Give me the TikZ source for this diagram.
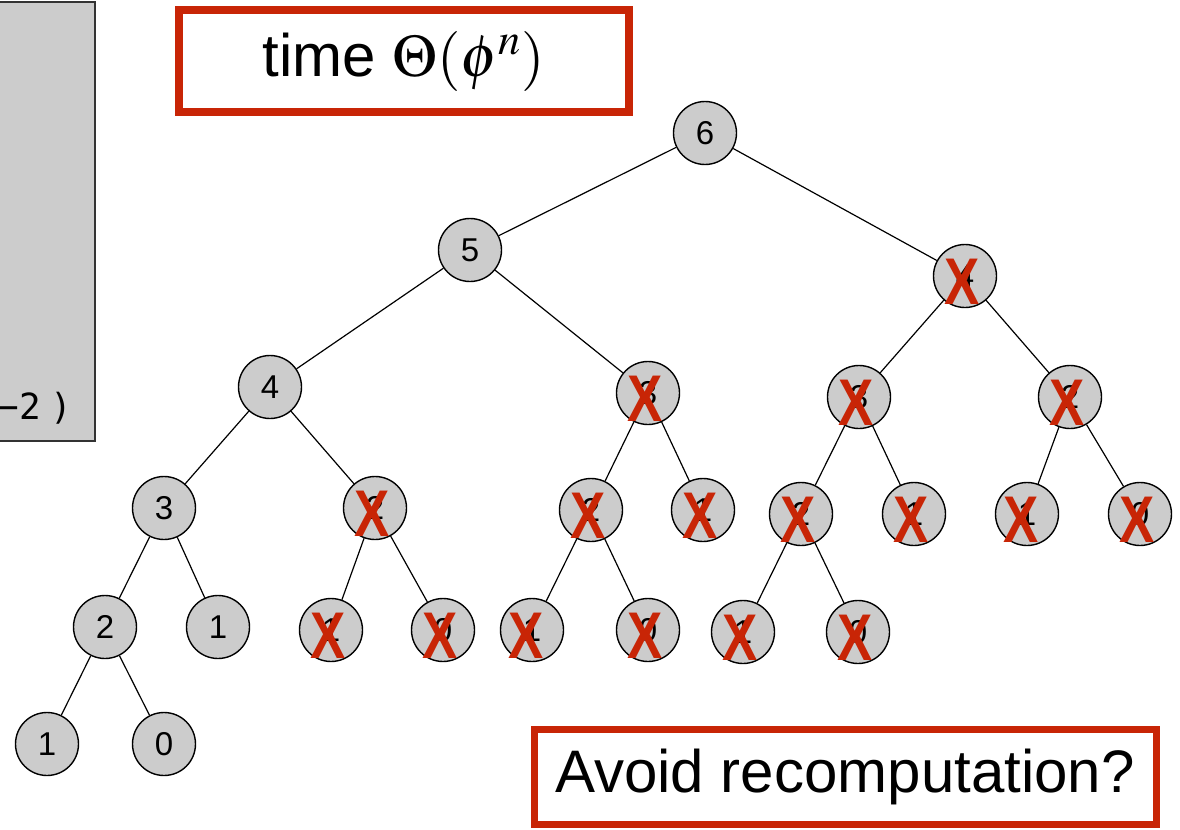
\documentclass[tikz,border=0pt]{standalone}
\usepackage{mathptmx}
\usepackage{fontspec}
\setmainfont{Liberation Sans}
\setmonofont{DejaVu Sans Mono}
\usepackage{tikz}
\usetikzlibrary{positioning}
\definecolor{markred}{RGB}{200,37,6}
\definecolor{nodegray}{RGB}{204,204,204}

\begin{document}
\begin{tikzpicture}[x=0.5pt, y=-0.5pt,
    fibnode/.style={draw, circle, fill=nodegray, line width=0.7pt, minimum size=31.5pt, inner sep=0pt, font=\fontsize{16.5}{16.5}\selectfont},
    cross/.style={text=markred, inner sep=0pt, xshift=-1.5pt, yshift=-3pt, font=\bfseries\fontsize{33}{33}\selectfont, xscale=0.8, transform shape},
    redbox/.style={draw=markred, rectangle, text centered}]

    \useasboundingbox (0,0) rectangle (1180,830);

    % Code panel on the left, cut off by the edge
    \draw[draw=black!80, fill=nodegray, line width=0.8pt] (-20,2) rectangle (95,441);
    \node (codeline) [anchor=base east, inner sep=0pt, font=\ttfamily\fontsize{18}{18}\selectfont] at (73,419) {−2\kern5pt)};

    % Nodes of the call tree
    \node (f6) [fibnode] at (705,133) {6};
    \node (f5) [fibnode] at (470,250) {5};
    \node (f4r) [fibnode] at (965,276) {4};
    \node (f4) [fibnode] at (270,387) {4};
    \node (f3m) [fibnode] at (648,393) {3};
    \node (f3r) [fibnode] at (859,397) {3};
    \node (f2r) [fibnode] at (1070,397) {2};
    \node (f3) [fibnode] at (164,508) {3};
    \node (f2a) [fibnode] at (375,508) {2};
    \node (f2m) [fibnode] at (591,510) {2};
    \node (f1a) [fibnode] at (703,510) {1};
    \node (f2b) [fibnode] at (801,514) {2};
    \node (f1b) [fibnode] at (914,514) {1};
    \node (f1c) [fibnode] at (1027,514) {1};
    \node (f0a) [fibnode] at (1140,514) {0};
    \node (f2) [fibnode] at (105,627) {2};
    \node (f1d) [fibnode] at (218,627) {1};
    \node (f1e) [fibnode] at (331,630) {1};
    \node (f0b) [fibnode] at (443,630) {0};
    \node (f1f) [fibnode] at (532,630) {1};
    \node (f0c) [fibnode] at (648,630) {0};
    \node (f1g) [fibnode] at (743,632) {1};
    \node (f0d) [fibnode] at (858,632) {0};
    \node (f1) [fibnode] at (47,744) {1};
    \node (f0) [fibnode] at (164,744) {0};

    % Edges from each call to its two sub-calls
    \draw[line width=0.6pt] (f6) -- (f5);
    \draw[line width=0.6pt] (f6) -- (f4r);
    \draw[line width=0.6pt] (f5) -- (f4);
    \draw[line width=0.6pt] (f5) -- (f3m);
    \draw[line width=0.6pt] (f4r) -- (f3r);
    \draw[line width=0.6pt] (f4r) -- (f2r);
    \draw[line width=0.6pt] (f4) -- (f3);
    \draw[line width=0.6pt] (f4) -- (f2a);
    \draw[line width=0.6pt] (f3m) -- (f2m);
    \draw[line width=0.6pt] (f3m) -- (f1a);
    \draw[line width=0.6pt] (f3r) -- (f2b);
    \draw[line width=0.6pt] (f3r) -- (f1b);
    \draw[line width=0.6pt] (f2r) -- (f1c);
    \draw[line width=0.6pt] (f2r) -- (f0a);
    \draw[line width=0.6pt] (f3) -- (f2);
    \draw[line width=0.6pt] (f3) -- (f1d);
    \draw[line width=0.6pt] (f2a) -- (f1e);
    \draw[line width=0.6pt] (f2a) -- (f0b);
    \draw[line width=0.6pt] (f2m) -- (f1f);
    \draw[line width=0.6pt] (f2m) -- (f0c);
    \draw[line width=0.6pt] (f2b) -- (f1g);
    \draw[line width=0.6pt] (f2b) -- (f0d);
    \draw[line width=0.6pt] (f2) -- (f1);
    \draw[line width=0.6pt] (f2) -- (f0);

    % Red crosses on the repeated calls
    \node (x4r) [cross] at (f4r) {X};
    \node (x3m) [cross] at (f3m) {X};
    \node (x3r) [cross] at (f3r) {X};
    \node (x2r) [cross] at (f2r) {X};
    \node (x2a) [cross] at (f2a) {X};
    \node (x2m) [cross] at (f2m) {X};
    \node (x1a) [cross] at (f1a) {X};
    \node (x2b) [cross] at (f2b) {X};
    \node (x1b) [cross] at (f1b) {X};
    \node (x1c) [cross, xshift=-2pt] at (f1c) {X};
    \node (x0a) [cross] at (f0a) {X};
    \node (x1e) [cross] at (f1e) {X};
    \node (x0b) [cross] at (f0b) {X};
    \node (x1f) [cross, xshift=-2pt] at (f1f) {X};
    \node (x0c) [cross] at (f0c) {X};
    \node (x1g) [cross] at (f1g) {X};
    \node (x0d) [cross] at (f0d) {X};

    % Boxed remarks
    \node (timebox) [redbox, line width=4pt, minimum width=225pt, minimum height=51pt, font=\fontsize{30}{32}\selectfont] at (404,61) {time $\Theta(\phi^n)$};
    \node (avoidbox) [redbox, line width=3.5pt, minimum width=311pt, minimum height=47.5pt, font=\fontsize{30}{33}\selectfont] at (845,777) {Avoid recomputation?};

\end{tikzpicture}
\end{document}
